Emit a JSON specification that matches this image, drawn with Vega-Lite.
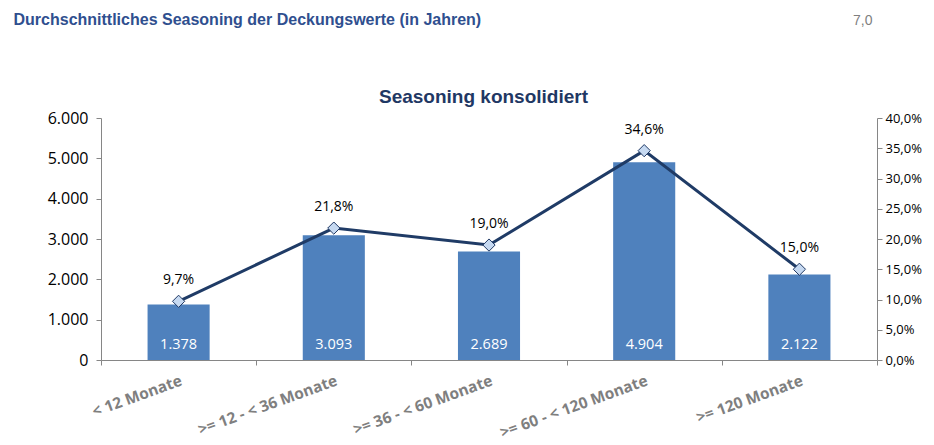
{
  "$schema": "https://vega.github.io/schema/vega-lite/v6.json",
  "width": 776,
  "height": 242,
  "autosize": "none",
  "padding": {"left": 101, "top": 118, "right": 57, "bottom": 85},
  "background": "white",
  "config": {
    "view": {"stroke": null},
    "locale": {"number": {"decimal": ",", "thousands": ".", "grouping": [3], "currency": ["", "€"]}}
  },
  "data": {
    "values": [
      {"cat": "< 12 Monate", "amount": 1378, "share": 0.097},
      {"cat": ">= 12 - < 36 Monate", "amount": 3093, "share": 0.218},
      {"cat": ">= 36 - < 60 Monate", "amount": 2689, "share": 0.19},
      {"cat": ">= 60 - < 120 Monate", "amount": 4904, "share": 0.346},
      {"cat": ">= 120 Monate", "amount": 2122, "share": 0.15}
    ]
  },
  "encoding": {
    "x": {
      "field": "cat",
      "type": "nominal",
      "sort": null,
      "scale": {"paddingInner": 0, "paddingOuter": 0},
      "axis": {
        "tickBand": "extent",
        "tickSize": 5,
        "tickColor": "#868686",
        "domainColor": "#868686",
        "labelAngle": -20,
        "labelAlign": "right",
        "labelBaseline": "top",
        "labelPadding": 8,
        "labelFont": "Open Sans",
        "labelFontSize": 15.5,
        "labelFontWeight": "bold",
        "labelColor": "#7F7F7F",
        "grid": false,
        "title": "Seasoning konsolidiert",
        "titleX": 382,
        "titleY": -258,
        "titleAlign": "center",
        "titleBaseline": "alphabetic",
        "titleFont": "Liberation Sans",
        "titleFontSize": 19,
        "titleFontWeight": "bold",
        "titleColor": "#1F3864"
      }
    }
  },
  "layer": [
    {
      "encoding": {
        "y": {
          "field": "amount",
          "type": "quantitative",
          "scale": {"domain": [0, 6000], "nice": false},
          "axis": {
            "values": [0, 1000, 2000, 3000, 4000, 5000, 6000],
            "format": ",d",
            "grid": false,
            "tickSize": 5,
            "tickColor": "#868686",
            "domainColor": "#868686",
            "labelFont": "Open Sans",
            "labelFontSize": 16,
            "labelColor": "#000000",
            "labelPadding": 8,
            "title": "Durchschnittliches Seasoning der Deckungswerte (in Jahren)",
            "titleAngle": 0,
            "titleX": -88,
            "titleY": -94,
            "titleAlign": "left",
            "titleBaseline": "alphabetic",
            "titleFont": "Liberation Sans",
            "titleFontSize": 16,
            "titleFontWeight": "bold",
            "titleColor": "#2F4F8F"
          }
        }
      },
      "layer": [
        {
          "mark": {"type": "bar", "color": "#4F81BD", "width": {"band": 0.4}}
        },
        {
          "mark": {"type": "text", "color": "#FFFFFF", "font": "Open Sans", "fontSize": 14.5, "baseline": "middle", "dy": -15},
          "encoding": {
            "y": {"datum": 0},
            "text": {"field": "amount", "type": "quantitative", "format": ",d"}
          }
        }
      ]
    },
    {
      "encoding": {
        "y": {
          "field": "share",
          "type": "quantitative",
          "scale": {"domain": [0, 0.4], "nice": false},
          "axis": {
            "orient": "right",
            "values": [0, 0.05, 0.1, 0.15, 0.2, 0.25, 0.3, 0.35, 0.4],
            "format": ".1%",
            "grid": false,
            "tickSize": 5,
            "tickColor": "#868686",
            "domainColor": "#868686",
            "labelFont": "Open Sans",
            "labelFontSize": 13,
            "labelColor": "#000000",
            "labelPadding": 3,
            "title": "7,0",
            "titleAngle": 0,
            "titleX": -5,
            "titleY": -94,
            "titleAlign": "right",
            "titleBaseline": "alphabetic",
            "titleFont": "Liberation Sans",
            "titleFontSize": 14,
            "titleFontWeight": "normal",
            "titleColor": "#7F7F7F"
          }
        }
      },
      "layer": [
        {
          "mark": {"type": "line", "color": "#1F3B66", "strokeWidth": 3}
        },
        {
          "mark": {"type": "point", "shape": "diamond", "size": 150, "filled": true, "fill": "#C6D9F1", "stroke": "#1F3864", "strokeWidth": 1, "opacity": 1}
        },
        {
          "mark": {"type": "text", "color": "#000000", "font": "Open Sans", "fontSize": 14, "baseline": "middle", "dy": -21},
          "encoding": {
            "text": {"field": "share", "type": "quantitative", "format": ".1%"}
          }
        }
      ]
    }
  ],
  "resolve": {"scale": {"y": "independent"}}
}
